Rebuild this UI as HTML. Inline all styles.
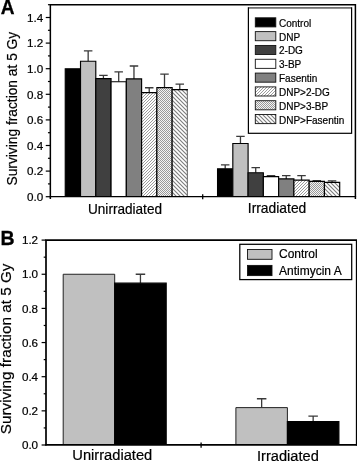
<!DOCTYPE html>
<html lang="en"><head><meta charset="utf-8"><title>Surviving fraction at 5 Gy</title>
<style>html,body{margin:0;padding:0;background:#fff;}svg{display:block;}text{font-family:"Liberation Sans", Arial, Helvetica, sans-serif;fill:#000;stroke:#000;stroke-width:0.2px;}</style>
</head><body>
<svg width="357" height="461" viewBox="0 0 357 461">
<defs>
<pattern id="h1" patternUnits="userSpaceOnUse" width="3" height="3"><rect width="3" height="3" fill="#fff"/><path d="M-1,1 L1,-1 M0,3 L3,0 M2,4 L4,2" stroke="#9c9c9c" stroke-width="1"/></pattern>
<pattern id="h2" patternUnits="userSpaceOnUse" width="2" height="2"><rect width="2" height="2" fill="#f4f4f4"/><rect x="0" y="0" width="1" height="1" fill="#999"/><rect x="1" y="1" width="1" height="1" fill="#999"/></pattern>
<pattern id="h3" patternUnits="userSpaceOnUse" width="4" height="4"><rect width="4" height="4" fill="#fff"/><path d="M-1,3 L1,5 M0,0 L4,4 M3,-1 L5,1" stroke="#7c7c7c" stroke-width="1.1"/></pattern>
</defs>
<rect width="357" height="461" fill="#fff"/>
<path d="M50.35,199.10 L50.35,4.70 L355.40,4.70 L355.40,199.10" fill="none" stroke="#000" stroke-width="1.5" stroke-linejoin="miter"/>
<line x1="45.75" y1="196.70" x2="50.35" y2="196.70" stroke="#000" stroke-width="1.2"/>
<text transform="translate(43.20,200.90) scale(1.06,1)" font-size="11" text-anchor="end">0.0</text>
<line x1="45.75" y1="171.10" x2="50.35" y2="171.10" stroke="#000" stroke-width="1.2"/>
<text transform="translate(43.20,175.30) scale(1.06,1)" font-size="11" text-anchor="end">0.2</text>
<line x1="45.75" y1="145.50" x2="50.35" y2="145.50" stroke="#000" stroke-width="1.2"/>
<text transform="translate(43.20,149.70) scale(1.06,1)" font-size="11" text-anchor="end">0.4</text>
<line x1="45.75" y1="119.90" x2="50.35" y2="119.90" stroke="#000" stroke-width="1.2"/>
<text transform="translate(43.20,124.10) scale(1.06,1)" font-size="11" text-anchor="end">0.6</text>
<line x1="45.75" y1="94.30" x2="50.35" y2="94.30" stroke="#000" stroke-width="1.2"/>
<text transform="translate(43.20,98.50) scale(1.06,1)" font-size="11" text-anchor="end">0.8</text>
<line x1="45.75" y1="68.70" x2="50.35" y2="68.70" stroke="#000" stroke-width="1.2"/>
<text transform="translate(43.20,72.90) scale(1.06,1)" font-size="11" text-anchor="end">1.0</text>
<line x1="45.75" y1="43.10" x2="50.35" y2="43.10" stroke="#000" stroke-width="1.2"/>
<text transform="translate(43.20,47.30) scale(1.06,1)" font-size="11" text-anchor="end">1.2</text>
<line x1="45.75" y1="17.50" x2="50.35" y2="17.50" stroke="#000" stroke-width="1.2"/>
<text transform="translate(43.20,21.70) scale(1.06,1)" font-size="11" text-anchor="end">1.4</text>
<line x1="47.95" y1="183.90" x2="50.35" y2="183.90" stroke="#000" stroke-width="1.2"/>
<line x1="47.95" y1="158.30" x2="50.35" y2="158.30" stroke="#000" stroke-width="1.2"/>
<line x1="47.95" y1="132.70" x2="50.35" y2="132.70" stroke="#000" stroke-width="1.2"/>
<line x1="47.95" y1="107.10" x2="50.35" y2="107.10" stroke="#000" stroke-width="1.2"/>
<line x1="47.95" y1="81.50" x2="50.35" y2="81.50" stroke="#000" stroke-width="1.2"/>
<line x1="47.95" y1="55.90" x2="50.35" y2="55.90" stroke="#000" stroke-width="1.2"/>
<line x1="47.95" y1="30.30" x2="50.35" y2="30.30" stroke="#000" stroke-width="1.2"/>
<line x1="47.95" y1="4.70" x2="50.35" y2="4.70" stroke="#000" stroke-width="1.2"/>
<path d="M65.25,196.70 L65.25,68.70 L80.52,68.70 L80.52,196.70" fill="#000" stroke="#000" stroke-width="1.15"/>
<path d="M88.16,61.28 L88.16,50.91 M83.91,50.91 L92.41,50.91" stroke="#3a3a3a" stroke-width="1.3" fill="none"/>
<path d="M80.52,196.70 L80.52,61.28 L95.79,61.28 L95.79,196.70" fill="#c0c0c0" stroke="#000" stroke-width="1.15"/>
<path d="M103.42,78.68 L103.42,75.36 M99.17,75.36 L107.67,75.36" stroke="#3a3a3a" stroke-width="1.3" fill="none"/>
<path d="M95.79,196.70 L95.79,78.68 L111.06,78.68 L111.06,196.70" fill="#404040" stroke="#000" stroke-width="1.15"/>
<path d="M118.70,81.76 L118.70,71.90 M114.45,71.90 L122.95,71.90" stroke="#3a3a3a" stroke-width="1.3" fill="none"/>
<path d="M111.06,196.70 L111.06,81.76 L126.33,81.76 L126.33,196.70" fill="#fff" stroke="#000" stroke-width="1.15"/>
<path d="M133.97,78.94 L133.97,66.01 M129.72,66.01 L138.22,66.01" stroke="#3a3a3a" stroke-width="1.3" fill="none"/>
<path d="M126.33,196.70 L126.33,78.94 L141.60,78.94 L141.60,196.70" fill="#808080" stroke="#000" stroke-width="1.15"/>
<path d="M149.23,92.64 L149.23,87.77 M144.98,87.77 L153.48,87.77" stroke="#3a3a3a" stroke-width="1.3" fill="none"/>
<path d="M141.60,196.70 L141.60,92.64 L156.87,92.64 L156.87,196.70" fill="url(#h1)" stroke="#000" stroke-width="1.15"/>
<path d="M164.50,87.64 L164.50,74.08 M160.25,74.08 L168.75,74.08" stroke="#3a3a3a" stroke-width="1.3" fill="none"/>
<path d="M156.87,196.70 L156.87,87.64 L172.14,87.64 L172.14,196.70" fill="url(#h2)" stroke="#000" stroke-width="1.15"/>
<path d="M179.77,89.56 L179.77,84.19 M175.52,84.19 L184.02,84.19" stroke="#3a3a3a" stroke-width="1.3" fill="none"/>
<rect x="172.14" y="89.56" width="15.27" height="107.14" fill="url(#h3)"/>
<path d="M187.41,89.56 L187.41,196.70" fill="none" stroke="#7a7a7a" stroke-width="1.2"/>
<path d="M172.14,196.70 L172.14,89.56 L187.91,89.56" fill="none" stroke="#000" stroke-width="1.15"/>
<path d="M225.19,168.80 L225.19,164.96 M220.94,164.96 L229.44,164.96" stroke="#3a3a3a" stroke-width="1.3" fill="none"/>
<path d="M217.55,196.70 L217.55,168.80 L232.82,168.80 L232.82,196.70" fill="#000" stroke="#000" stroke-width="1.15"/>
<path d="M240.46,143.45 L240.46,136.28 M236.21,136.28 L244.71,136.28" stroke="#3a3a3a" stroke-width="1.3" fill="none"/>
<path d="M232.82,196.70 L232.82,143.45 L248.09,143.45 L248.09,196.70" fill="#c0c0c0" stroke="#000" stroke-width="1.15"/>
<path d="M255.72,172.76 L255.72,167.64 M251.47,167.64 L259.98,167.64" stroke="#3a3a3a" stroke-width="1.3" fill="none"/>
<path d="M248.09,196.70 L248.09,172.76 L263.36,172.76 L263.36,196.70" fill="#404040" stroke="#000" stroke-width="1.15"/>
<path d="M271.00,176.60 L271.00,175.71 M266.75,175.71 L275.25,175.71" stroke="#3a3a3a" stroke-width="1.3" fill="none"/>
<path d="M263.36,196.70 L263.36,176.60 L278.63,176.60 L278.63,196.70" fill="#fff" stroke="#000" stroke-width="1.15"/>
<path d="M286.26,178.91 L286.26,175.58 M282.01,175.58 L290.51,175.58" stroke="#3a3a3a" stroke-width="1.3" fill="none"/>
<path d="M278.63,196.70 L278.63,178.91 L293.90,178.91 L293.90,196.70" fill="#808080" stroke="#000" stroke-width="1.15"/>
<path d="M301.53,180.06 L301.53,175.58 M297.28,175.58 L305.78,175.58" stroke="#3a3a3a" stroke-width="1.3" fill="none"/>
<path d="M293.90,196.70 L293.90,180.06 L309.17,180.06 L309.17,196.70" fill="url(#h1)" stroke="#000" stroke-width="1.15"/>
<path d="M316.81,181.34 L316.81,180.57 M312.56,180.57 L321.06,180.57" stroke="#3a3a3a" stroke-width="1.3" fill="none"/>
<path d="M309.17,196.70 L309.17,181.34 L324.44,181.34 L324.44,196.70" fill="url(#h2)" stroke="#000" stroke-width="1.15"/>
<path d="M332.07,182.36 L332.07,180.96 M327.82,180.96 L336.32,180.96" stroke="#3a3a3a" stroke-width="1.3" fill="none"/>
<path d="M324.44,196.70 L324.44,182.36 L339.71,182.36 L339.71,196.70" fill="url(#h3)" stroke="#000" stroke-width="1.15"/>
<line x1="49.65" y1="196.60" x2="356.10" y2="196.60" stroke="#000" stroke-width="1.45"/>
<line x1="202.7" y1="194.2" x2="202.7" y2="199.3" stroke="#000" stroke-width="1.3"/>
<text transform="translate(0.7,14.45) scale(0.94,1)" font-size="20.3" font-weight="bold" style="stroke-width:0.3px">A</text>
<text transform="translate(17.4,185.5) rotate(-90)" font-size="14.4" textLength="153.7" lengthAdjust="spacingAndGlyphs">Surviving fraction at 5 Gy</text>
<text x="88.0" y="214.1" font-size="14.3" textLength="74" lengthAdjust="spacingAndGlyphs">Unirradiated</text>
<text x="247.8" y="212.6" font-size="14.3" textLength="58.5" lengthAdjust="spacingAndGlyphs">Irradiated</text>
<rect x="248.4" y="7.8" width="103.2" height="125.5" fill="#fff" stroke="#000" stroke-width="1.2"/>
<line x1="249" y1="7.8" x2="351" y2="7.8" stroke="#8a8a8a" stroke-width="1.3"/>
<rect x="255.3" y="17.80" width="20.5" height="9.1" fill="#000" stroke="#111" stroke-width="0.9"/>
<text x="279" y="26.80" font-size="10">Control</text>
<rect x="255.3" y="31.62" width="20.5" height="9.1" fill="#c0c0c0" stroke="#111" stroke-width="0.9"/>
<text x="279" y="40.62" font-size="10">DNP</text>
<rect x="255.3" y="45.44" width="20.5" height="9.1" fill="#404040" stroke="#111" stroke-width="0.9"/>
<text x="279" y="54.44" font-size="10">2-DG</text>
<rect x="255.3" y="59.26" width="20.5" height="9.1" fill="#fff" stroke="#111" stroke-width="0.9"/>
<text x="279" y="68.26" font-size="10">3-BP</text>
<rect x="255.3" y="73.08" width="20.5" height="9.1" fill="#808080" stroke="#111" stroke-width="0.9"/>
<text x="279" y="82.08" font-size="10">Fasentin</text>
<rect x="255.3" y="86.90" width="20.5" height="9.1" fill="url(#h1)" stroke="#111" stroke-width="0.9"/>
<text x="279" y="95.90" font-size="10">DNP&gt;2-DG</text>
<rect x="255.3" y="100.72" width="20.5" height="9.1" fill="url(#h2)" stroke="#111" stroke-width="0.9"/>
<text x="279" y="109.72" font-size="10">DNP&gt;3-BP</text>
<rect x="255.3" y="114.54" width="20.5" height="9.1" fill="url(#h3)" stroke="#111" stroke-width="0.9"/>
<text x="279" y="123.54" font-size="10">DNP&gt;Fasentin</text>
<path d="M46.00,445.60 L46.00,240.10 L356.70,240.10 L356.70,445.60" fill="none" stroke="#000" stroke-width="1.7" stroke-linejoin="miter"/>
<line x1="41.60" y1="445.00" x2="46.00" y2="445.00" stroke="#000" stroke-width="1.2"/>
<text transform="translate(38.10,449.20) scale(1.06,1)" font-size="11" text-anchor="end">0.0</text>
<line x1="41.60" y1="410.85" x2="46.00" y2="410.85" stroke="#000" stroke-width="1.2"/>
<text transform="translate(38.10,415.05) scale(1.06,1)" font-size="11" text-anchor="end">0.2</text>
<line x1="41.60" y1="376.70" x2="46.00" y2="376.70" stroke="#000" stroke-width="1.2"/>
<text transform="translate(38.10,380.90) scale(1.06,1)" font-size="11" text-anchor="end">0.4</text>
<line x1="41.60" y1="342.55" x2="46.00" y2="342.55" stroke="#000" stroke-width="1.2"/>
<text transform="translate(38.10,346.75) scale(1.06,1)" font-size="11" text-anchor="end">0.6</text>
<line x1="41.60" y1="308.40" x2="46.00" y2="308.40" stroke="#000" stroke-width="1.2"/>
<text transform="translate(38.10,312.60) scale(1.06,1)" font-size="11" text-anchor="end">0.8</text>
<line x1="41.60" y1="274.25" x2="46.00" y2="274.25" stroke="#000" stroke-width="1.2"/>
<text transform="translate(38.10,278.45) scale(1.06,1)" font-size="11" text-anchor="end">1.0</text>
<line x1="41.60" y1="240.10" x2="46.00" y2="240.10" stroke="#000" stroke-width="1.2"/>
<text transform="translate(38.10,244.30) scale(1.06,1)" font-size="11" text-anchor="end">1.2</text>
<line x1="43.70" y1="427.93" x2="46.00" y2="427.93" stroke="#000" stroke-width="1.2"/>
<line x1="43.70" y1="393.77" x2="46.00" y2="393.77" stroke="#000" stroke-width="1.2"/>
<line x1="43.70" y1="359.62" x2="46.00" y2="359.62" stroke="#000" stroke-width="1.2"/>
<line x1="43.70" y1="325.48" x2="46.00" y2="325.48" stroke="#000" stroke-width="1.2"/>
<line x1="43.70" y1="291.32" x2="46.00" y2="291.32" stroke="#000" stroke-width="1.2"/>
<line x1="43.70" y1="257.17" x2="46.00" y2="257.17" stroke="#000" stroke-width="1.2"/>
<path d="M63.20,445.00 L63.20,274.25 L114.70,274.25 L114.70,445.00" fill="#c0c0c0" stroke="#222" stroke-width="1"/>
<path d="M140.45,283.13 L140.45,274.25 M135.70,274.25 L145.20,274.25" stroke="#3a3a3a" stroke-width="1.3" fill="none"/>
<path d="M114.70,445.00 L114.70,283.13 L166.20,283.13 L166.20,445.00" fill="#000" stroke="#000" stroke-width="1.15"/>
<path d="M261.65,407.61 L261.65,398.73 M256.90,398.73 L266.40,398.73" stroke="#3a3a3a" stroke-width="1.3" fill="none"/>
<path d="M235.90,445.00 L235.90,407.61 L287.40,407.61 L287.40,445.00" fill="#c0c0c0" stroke="#222" stroke-width="1"/>
<path d="M313.15,421.61 L313.15,416.14 M308.40,416.14 L317.90,416.14" stroke="#3a3a3a" stroke-width="1.3" fill="none"/>
<path d="M287.40,445.00 L287.40,421.61 L338.90,421.61 L338.90,445.00" fill="#000" stroke="#000" stroke-width="1.15"/>
<line x1="45.30" y1="444.90" x2="357.40" y2="444.90" stroke="#000" stroke-width="1.7"/>
<line x1="201.1" y1="442.5" x2="201.1" y2="447.8" stroke="#000" stroke-width="1.3"/>
<text transform="translate(0.4,244.6) scale(0.97,1)" font-size="20.1" font-weight="bold" style="stroke-width:0.3px">B</text>
<text transform="translate(11.2,434.2) rotate(-90)" font-size="15.1" textLength="170.6" lengthAdjust="spacingAndGlyphs">Surviving fraction at 5 Gy</text>
<text x="72.3" y="459.7" font-size="14.9" textLength="80" lengthAdjust="spacingAndGlyphs">Unirradiated</text>
<text x="257.0" y="461.3" font-size="14.9" textLength="61.8" lengthAdjust="spacingAndGlyphs">Irradiated</text>
<rect x="239.8" y="244.3" width="111.9" height="35.3" fill="#fff" stroke="#000" stroke-width="1.25"/>
<rect x="247.5" y="249.5" width="24.5" height="9.8" fill="#c0c0c0" stroke="#111" stroke-width="0.9"/>
<rect x="247.5" y="265.4" width="24.5" height="10.2" fill="#000" stroke="#111" stroke-width="0.9"/>
<text x="279.0" y="258.4" font-size="12">Control</text>
<text x="279.0" y="274.7" font-size="12">Antimycin A</text>
</svg>
</body></html>
